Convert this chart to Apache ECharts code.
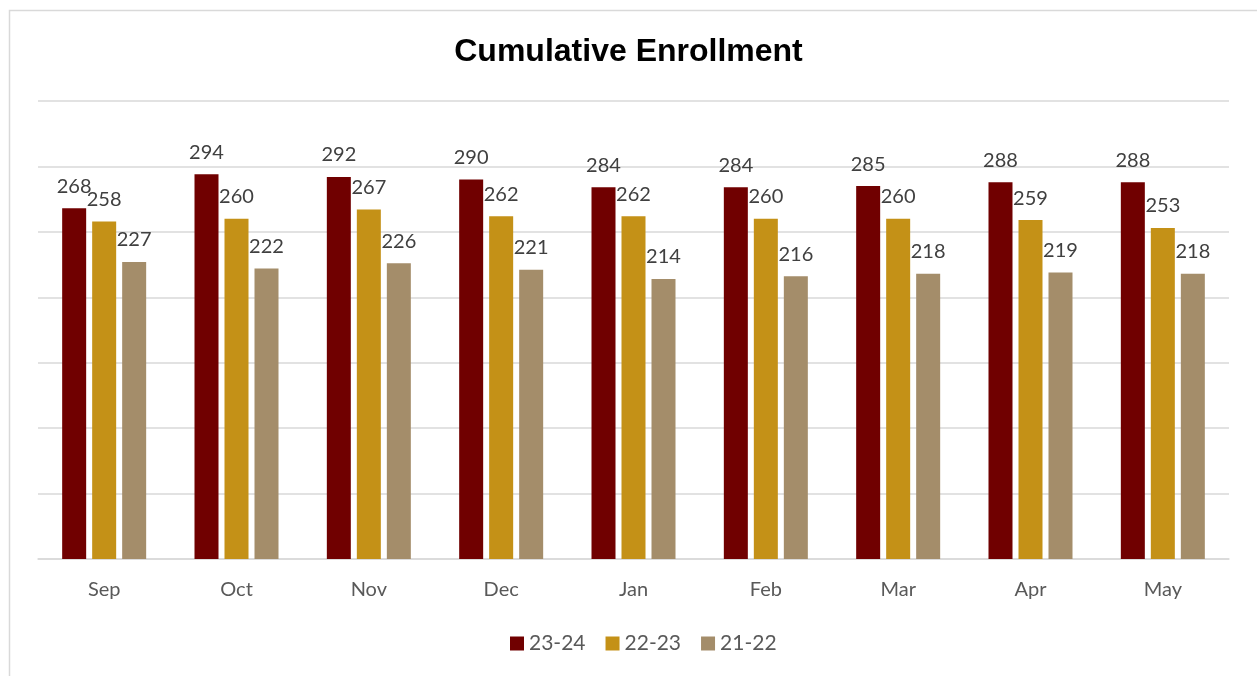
<!DOCTYPE html>
<html>
<head>
<meta charset="utf-8" />
<title>Cumulative Enrollment</title>
<style>
  body, html { padding: 0; margin: 0; background: #fff; }
</style>
</head>
<body>
<div id="container" style="width: 1257px; height: 676px"></div>
<script src="https://cdn.jsdelivr.net/npm/echarts@6/dist/echarts.min.js"></script>
<script>
var months = ['Sep', 'Oct', 'Nov', 'Dec', 'Jan', 'Feb', 'Mar', 'Apr', 'May'];
var seriesNames = ['23-24', '22-23', '21-22'];
var y2324 = [268, 294, 292, 290, 284, 284, 285, 288, 288];
var y2223 = [258, 260, 267, 262, 262, 260, 260, 259, 253];
var y2122 = [227, 222, 226, 221, 214, 216, 218, 219, 218];
var colors = ['#700000', '#C49117', '#A48D6A'];

var chart = echarts.init(document.getElementById('container'));

function barSeries(name, data, color) {
  return {
    name: name,
    type: 'bar',
    data: data,
    barWidth: 24,
    barGap: '25%',
    itemStyle: { color: color },
    label: {
      show: true,
      position: 'top',
      distance: 12,
      color: '#404040',
      fontFamily: 'Lato',
      fontSize: 20
    }
  };
}

chart.setOption({
  backgroundColor: '#fff',
  animation: false,
  title: {
    text: 'Cumulative Enrollment',
    left: 'center',
    top: 31,
    textStyle: {
      fontFamily: 'Liberation Sans',
      fontWeight: 'bold',
      fontSize: 32,
      color: '#000'
    }
  },
  legend: {
    bottom: 17,
    left: 505,
    itemWidth: 14,
    itemHeight: 14,
    itemGap: 20,
    icon: 'rect',
    textStyle: { fontFamily: 'Lato', fontSize: 21, color: '#595959' },
    data: seriesNames
  },
  graphic: [{
    type: 'rect',
    shape: { x: 9.5, y: 10.5, width: 1270, height: 700 },
    style: { fill: 'none', stroke: '#d9d9d9', lineWidth: 1.5 },
    silent: true
  }],
  grid: { left: 38, right: 28, top: 101, bottom: 117 },
  xAxis: {
    type: 'category',
    data: months,
    axisTick: { show: false },
    axisLine: { lineStyle: { color: '#d9d9d9', width: 1.5 } },
    axisLabel: { color: '#595959', fontFamily: 'Lato', fontSize: 20, margin: 21 }
  },
  yAxis: {
    type: 'value',
    min: 0,
    max: 350,
    interval: 50,
    axisLabel: { show: false },
    axisLine: { show: false },
    axisTick: { show: false },
    splitLine: { lineStyle: { color: '#d9d9d9', width: 1.5 } }
  },
  series: [
    barSeries(seriesNames[0], y2324, colors[0]),
    barSeries(seriesNames[1], y2223, colors[1]),
    barSeries(seriesNames[2], y2122, colors[2])
  ]
});
</script>
</body>
</html>
